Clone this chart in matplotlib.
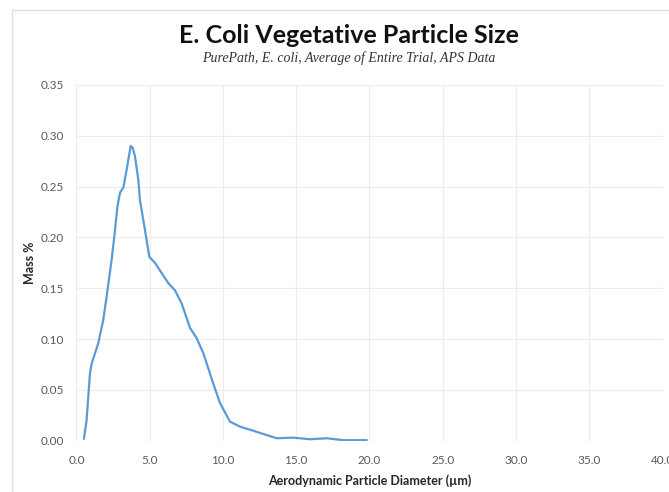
import matplotlib
matplotlib.use("Agg")
import matplotlib.pyplot as plt
from matplotlib.patches import Rectangle
from matplotlib.ticker import FormatStrFormatter

# diameter (um) and mass %
diameter = [0.51, 0.69, 0.92, 1.04, 1.49, 1.83, 2.06, 2.40, 2.63, 2.79, 2.97, 3.20,
            3.43, 3.70, 3.84, 3.99, 4.22, 4.33, 4.68, 4.97, 5.36, 5.81, 6.27, 6.72,
            7.18, 7.75, 8.20, 8.66, 9.34, 9.80, 10.48, 11.16, 12.07, 12.75, 13.67,
            14.80, 15.94, 17.08, 18.20, 19.80]
mass_pct = [0.002, 0.020, 0.066, 0.076, 0.096, 0.119, 0.142, 0.178, 0.207, 0.230,
            0.244, 0.249, 0.267, 0.290, 0.288, 0.280, 0.257, 0.237, 0.207, 0.181,
            0.175, 0.165, 0.155, 0.148, 0.135, 0.111, 0.101, 0.086, 0.056, 0.037,
            0.0187, 0.0138, 0.0098, 0.0066, 0.0024, 0.003, 0.0014, 0.0024, 0.0005,
            0.0005]

x_ticks = [0, 5, 10, 15, 20, 25, 30, 35, 40]
y_ticks = [0, 0.05, 0.10, 0.15, 0.20, 0.25, 0.30, 0.35]

plt.rcParams['font.family'] = ['Lato', 'DejaVu Sans']

fig = plt.figure(figsize=(6.69, 4.92), dpi=100)
ax = fig.add_axes([0.1143, 0.1043, 0.876, 0.723])

# chart frame border like the Excel chart area
fig.patches.append(Rectangle((12 / 669, -0.1), 1.2, 1.1 - 9.5 / 492,
                             transform=fig.transFigure, fill=False,
                             edgecolor="#e0e0e0", linewidth=1.0))

ax.plot(diameter, mass_pct, color="#5B9BD5", linewidth=1.6)

ax.set_xlim(0, 40)
ax.set_ylim(0, 0.35)
ax.set_xticks(x_ticks)
ax.set_yticks(y_ticks)
ax.xaxis.set_major_formatter(FormatStrFormatter('%.1f'))
ax.yaxis.set_major_formatter(FormatStrFormatter('%.2f'))
ax.grid(True, color="#ececec", linewidth=0.8)
ax.set_axisbelow(True)
for s in ax.spines.values():
    s.set_visible(False)
ax.tick_params(length=0, labelsize=8.5, labelcolor="#595959")
ax.tick_params(axis='x', pad=10)
ax.tick_params(axis='y', pad=9)

ax.set_xlabel("Aerodynamic Particle Diameter (µm)", fontsize=9, fontweight="bold",
              color="#262626", labelpad=6)
ax.set_ylabel("Mass %", fontsize=9, fontweight="bold", color="#262626", labelpad=3)

fig.text(0.521, 0.928, "E. Coli Vegetative Particle Size", ha="center", va="center",
         fontsize=18, fontweight="bold", color="#111111")
fig.text(0.521, 0.882, "PurePath, E. coli, Average of Entire Trial, APS Data",
         ha="center", va="center", fontsize=10, style="italic",
         family=["Liberation Serif", "DejaVu Serif"], color="#333333")

fig.savefig("out.png", dpi=100)
